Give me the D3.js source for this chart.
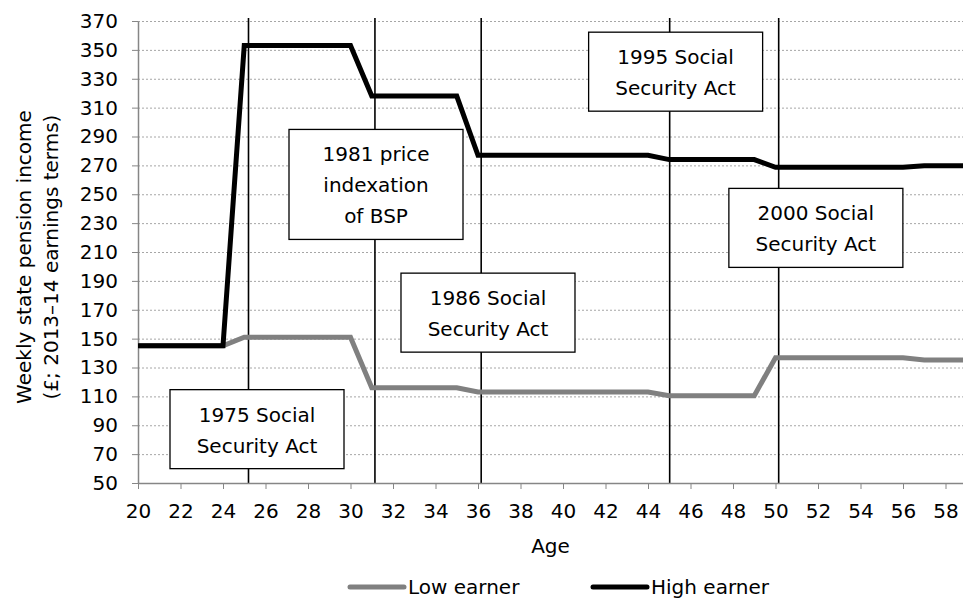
<!DOCTYPE html>
<html lang="en">
<head>
    <meta charset="utf-8">
    <title>Weekly state pension income by age</title>
    <script src="https://cdnjs.cloudflare.com/ajax/libs/d3/7.8.5/d3.min.js"></script>
    <style>
        body { margin: 0; background: #fff; }
        text { font-family: "DejaVu Sans", sans-serif; font-size: 20px; fill: #000; }
        .grid line { stroke: #a6a6a6; stroke-dasharray: 2,2; }
        .axis path, .axis line { stroke: #868686; }
    </style>
</head>
<body>
<svg width="963" height="598"></svg>
<script>
    // data
    var ages = [20, 21, 22, 23, 24, 25, 26, 27, 28, 29, 30, 31, 32, 33, 34, 35, 36, 37, 38, 39,
                40, 41, 42, 43, 44, 45, 46, 47, 48, 49, 50, 51, 52, 53, 54, 55, 56, 57, 58, 59];
    var lowEarner = [145, 145, 145, 145, 145, 151, 151, 151, 151, 151, 151, 116, 116, 116, 116, 116,
                     113, 113, 113, 113, 113, 113, 113, 113, 113, 110.5, 110.5, 110.5, 110.5, 110.5,
                     136.8, 136.8, 136.8, 136.8, 136.8, 136.8, 136.8, 135.2, 135.2, 135.2];
    var highEarner = [145, 145, 145, 145, 145, 353, 353, 353, 353, 353, 353, 318, 318, 318, 318, 318,
                      277, 277, 277, 277, 277, 277, 277, 277, 277, 274, 274, 274, 274, 274,
                      268.7, 268.7, 268.7, 268.7, 268.7, 268.7, 268.7, 269.8, 269.8, 269.8];
    var yTicks = [50, 70, 90, 110, 130, 150, 170, 190, 210, 230, 250, 270, 290, 310, 330, 350, 370];
    var xTicks = [20, 22, 24, 26, 28, 30, 32, 34, 36, 38, 40, 42, 44, 46, 48, 50, 52, 54, 56, 58];

    // policy changes: where the marker line sits and where its label box sits
    var policyAges = [25.2, 31.15, 36.15, 45.02, 50.15];
    var labelText = [["1975 Social", "Security Act"],
                     ["1981 price", "indexation", "of BSP"],
                     ["1986 Social", "Security Act"],
                     ["1995 Social", "Security Act"],
                     ["2000 Social", "Security Act"]];
    var labelAge = [25.6, 31.2, 36.47, 45.3, 51.9];
    var labelValue = [87.3, 256.8, 168, 334.9, 226.7];

    var svg = d3.select("svg"),
        plotLeft = 138,
        plotTop = 21,
        plotBottom = 483;

    var x = d3.scaleLinear().domain([20, 59]).range([plotLeft, plotLeft + 39 * 21.25]);
    var y = d3.scaleLinear().domain([50, 370]).range([plotBottom, plotTop]);

    // dotted gridlines
    svg.append("g")
        .attr("class", "grid")
        .selectAll("line")
        .data(yTicks.slice(1))
        .enter().append("line")
        .attr("x1", plotLeft)
        .attr("x2", 963)
        .attr("y1", function(d) { return y(d) + 0.5; })
        .attr("y2", function(d) { return y(d) + 0.5; });

    // policy marker lines
    svg.selectAll(".policy")
        .data(policyAges)
        .enter().append("line")
        .attr("class", "policy")
        .attr("x1", function(d) { return x(d); })
        .attr("x2", function(d) { return x(d); })
        .attr("y1", y(370) - 3)
        .attr("y2", plotBottom)
        .attr("stroke", "#000")
        .attr("stroke-width", 1.6);

    // axes
    svg.append("g")
        .attr("class", "axis")
        .attr("transform", "translate(0," + plotBottom + ")")
        .call(d3.axisBottom(x).tickValues(xTicks).tickSize(6).tickPadding(15).tickSizeOuter(0))
        .call(function(g) { g.select(".domain").attr("d", "M" + plotLeft + ",0.5H963").attr("stroke-width", 1.5); })
        .selectAll("text").attr("font-size", "20px").attr("font-family", "DejaVu Sans");

    svg.append("g")
        .attr("class", "axis")
        .attr("transform", "translate(" + plotLeft + ",0)")
        .call(d3.axisLeft(y).tickValues(yTicks).tickSize(6).tickPadding(14).tickSizeOuter(0))
        .call(function(g) { g.select(".domain").attr("stroke-width", 1.5); })
        .selectAll("text").attr("font-size", "20px").attr("font-family", "DejaVu Sans");

    // series
    var line = d3.line()
        .x(function(d, i) { return x(ages[i]); })
        .y(function(d) { return y(d); });

    svg.append("path")
        .datum(lowEarner)
        .attr("d", line)
        .attr("fill", "none")
        .attr("stroke", "#808080")
        .attr("stroke-width", 5);

    svg.append("path")
        .datum(highEarner)
        .attr("d", line)
        .attr("fill", "none")
        .attr("stroke", "#000")
        .attr("stroke-width", 5);

    // annotation boxes
    var boxes = svg.selectAll(".note")
        .data(labelText)
        .enter().append("g")
        .attr("class", "note")
        .attr("transform", function(d, i) {
            return "translate(" + x(labelAge[i]) + "," + y(labelValue[i]) + ")";
        });

    boxes.append("rect")
        .attr("x", -87)
        .attr("width", 174)
        .attr("y", function(d) { return -(d.length * 31 + 17) / 2; })
        .attr("height", function(d) { return d.length * 31 + 17; })
        .attr("fill", "#fff")
        .attr("stroke", "#000")
        .attr("stroke-width", 1.3);

    boxes.each(function(d) {
        var g = d3.select(this),
            h = d.length * 31 + 17;
        d.forEach(function(s, j) {
            g.append("text")
                .attr("x", 0)
                .attr("y", -h / 2 + 32 + j * 31)
                .attr("text-anchor", "middle")
                .text(s);
        });
    });

    // axis titles
    svg.append("text")
        .attr("transform", "translate(31,257) rotate(-90)")
        .attr("text-anchor", "middle")
        .text("Weekly state pension income");
    svg.append("text")
        .attr("transform", "translate(58,257) rotate(-90)")
        .attr("text-anchor", "middle")
        .text("(£; 2013–14 earnings terms)");

    svg.append("text")
        .attr("x", (plotLeft + 963) / 2)
        .attr("y", 553)
        .attr("text-anchor", "middle")
        .text("Age");

    // legend
    var legend = [["Low earner", "#808080", 350], ["High earner", "#000", 593]];
    legend.forEach(function(l) {
        svg.append("line")
            .attr("x1", l[2]).attr("x2", l[2] + 54)
            .attr("y1", 587).attr("y2", 587)
            .attr("stroke", l[1])
            .attr("stroke-width", 5)
            .attr("stroke-linecap", "round");
        svg.append("text")
            .attr("x", l[2] + 58)
            .attr("y", 594)
            .text(l[0]);
    });
</script>
</body>
</html>
